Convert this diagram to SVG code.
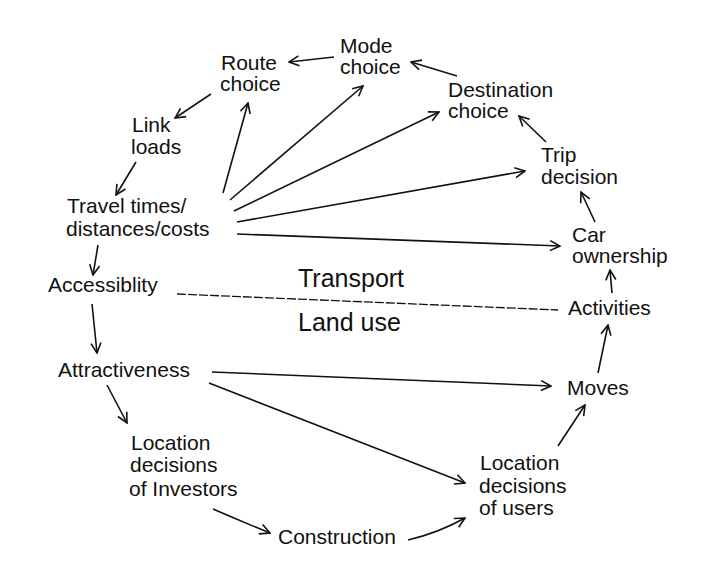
<svg xmlns="http://www.w3.org/2000/svg" width="707" height="580" viewBox="0 0 707 580">
<defs>
<style>
text{font-family:"Liberation Sans",Arial,sans-serif;font-size:21px;fill:#111}
.big{font-size:25px}
.c{fill:none;stroke:#111;stroke-width:1.6;marker-end:url(#ah)}
.d{fill:none;stroke:#111;stroke-width:1.3;stroke-dasharray:9 2}
</style>
<marker id="ah" viewBox="0 0 12 12" refX="11" refY="6" markerWidth="12" markerHeight="12" markerUnits="userSpaceOnUse" orient="auto">
<path d="M1,1 L11,6 L1,11" fill="none" stroke="#111" stroke-width="1.6"/>
</marker>
</defs>
<rect width="707" height="580" fill="#fff"/>
<g id="mode"><text x="340" y="53">Mode</text><text x="340" y="74">choice</text></g>
<g id="route"><text x="221" y="70">Route</text><text x="220" y="91">choice</text></g>
<g id="destination"><text x="448" y="97">Destination</text><text x="448" y="118">choice</text></g>
<g id="link"><text x="132" y="132">Link</text><text x="131" y="154">loads</text></g>
<g id="travel"><text x="67" y="213">Travel times/</text><text x="66" y="236">distances/costs</text></g>
<g id="access"><text x="48" y="292">Accessiblity</text></g>
<g id="trip"><text x="541" y="162">Trip</text><text x="541" y="184">decision</text></g>
<g id="car"><text x="572" y="242">Car</text><text x="572" y="263">ownership</text></g>
<g id="activities"><text x="568" y="315">Activities</text></g>
<g id="transport"><text class="big" x="298" y="287">Transport</text></g>
<g id="landuse"><text class="big" x="298" y="331">Land use</text></g>
<g id="attract"><text x="58" y="377">Attractiveness</text></g>
<g id="moves"><text x="567" y="395">Moves</text></g>
<g id="investors"><text x="131" y="450">Location</text><text x="130" y="472">decisions</text><text x="129" y="496">of Investors</text></g>
<g id="users"><text x="480" y="470">Location</text><text x="479" y="493">decisions</text><text x="479" y="515">of users</text></g>
<g id="construction"><text x="278" y="544">Construction</text></g>
<g id="connectors">
<path class="c" d="M334,57 L289,62"/>
<path class="c" d="M457,76 L411,62"/>
<path class="c" d="M211,94 L175,118"/>
<path class="c" d="M136,162 L116,195"/>
<path class="c" d="M98,245 L93,275"/>
<path class="c" d="M546,142 L519,116"/>
<path class="c" d="M595,222 L581,192"/>
<path class="c" d="M612,293 L610,270"/>
<path class="c" d="M223,193 L248,103"/>
<path class="c" d="M230,200 L363,86"/>
<path class="c" d="M234,211 L439,112"/>
<path class="c" d="M237,222 L525,171"/>
<path class="c" d="M237,234 L560,246"/>
<path class="d" d="M177,294 L558,310"/>
<path class="c" d="M92,304 L97,353"/>
<path class="c" d="M212,372 L551,386"/>
<path class="c" d="M598,373 L608,325"/>
<path class="c" d="M107,385 L127,423"/>
<path class="c" d="M209,383 L465,483"/>
<path class="c" d="M558,446 L585,405"/>
<path class="c" d="M213,509 Q243,522 270,533"/>
<path class="c" d="M408,540 Q438,533 465,518"/>
</g>
</svg>
